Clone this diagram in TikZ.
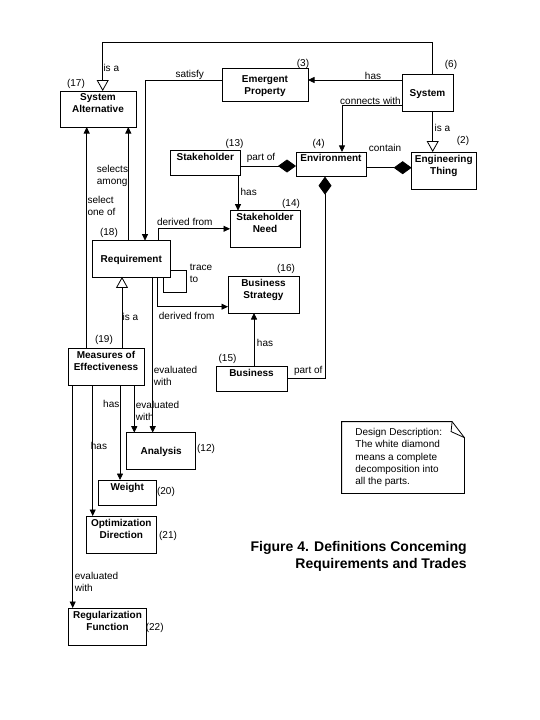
\documentclass[tikz,border=0pt]{standalone}
\usepackage{fontspec}
\setmainfont{Liberation Sans}
\usepackage{tikz}
\usetikzlibrary{arrows.meta}

\begin{document}
\begin{tikzpicture}[x=1pt,y=-1pt,line width=0.8pt,
  cls/.style={draw,inner sep=1pt,outer sep=0pt,align=center,
    font=\bfseries\fontsize{10}{12}\selectfont},
  toprow/.style={text height=7.5pt,text depth=12.5pt},
  toptwo/.style={text height=19.5pt,text depth=12pt},
  midrow/.style={text height=7.5pt,text depth=0pt},
  midtwo/.style={text height=22pt,text depth=2pt},
  lbl/.style={inner sep=0.5pt,align=left,font=\fontsize{10}{12}\selectfont},
  num/.style={inner sep=0pt,font=\fontsize{10}{12}\selectfont},
  arr/.style={-{Triangle[length=6.5pt,width=6pt]}},
  isa/.style={-{Triangle[open,length=11pt,width=12pt]}},
  whole/.style={-{Diamond[length=18pt,width=13pt]}}]
  % page is 540 x 720, y runs down
  \useasboundingbox (0,0) rectangle (540,720);

  % classes
  \node[cls,toptwo,minimum width=76pt,minimum height=36pt] (sysalt) at (98,109) {System\\Alternative};
  \node[cls,midtwo,minimum width=86pt,minimum height=33pt] (emerg) at (265,84.5) {Emergent\\Property};
  \node[cls,midrow,minimum width=51pt,minimum height=37pt] (system) at (427.5,92.5) {System};
  \node[cls,toptwo,minimum width=64.3pt,minimum height=37pt] (engthing) at (443.8,170.5) {Engineering\\Thing};
  \node[cls,toprow,minimum width=70pt,minimum height=24.7pt] (env) at (331,164.3) {Environment};
  \node[cls,toprow,minimum width=70.7pt,minimum height=25pt] (stake) at (205.3,163.2) {Stakeholder};
  \node[cls,toptwo,minimum width=70pt,minimum height=36.3pt] (stakeneed) at (265,228.8) {Stakeholder\\Need};
  \node[cls,midrow,minimum width=78.7pt,minimum height=36.3pt] (req) at (131.3,258.8) {Requirement};
  \node[cls,toptwo,minimum width=71pt,minimum height=37pt] (bizstrat) at (263.5,294.5) {Business\\Strategy};
  \node[cls,toprow,minimum width=71pt,minimum height=25pt] (business) at (251.5,378.5) {Business};
  \node[cls,toptwo,minimum width=76pt,minimum height=37pt] (moe) at (106,366.5) {Measures of\\Effectiveness};
  \node[cls,midrow,minimum width=69pt,minimum height=36.3pt] (analysis) at (161.2,450.8) {Analysis};
  \node[cls,toprow,minimum width=58.7pt,minimum height=25pt] (weight) at (127.3,492.5) {Weight};
  \node[cls,toptwo,minimum width=70.7pt,minimum height=37pt] (optdir) at (121.3,534.5) {Optimization\\Direction};
  \node[cls,toptwo,minimum width=78.4pt,minimum height=37pt] (regfn) at (107.5,626.5) {Regularization\\Function};

  % numbers
  \node[num] (n17) at (76,84) {(17)};
  \node[num] (n3) at (303,64) {(3)};
  \node[num] (n6) at (451,65) {(6)};
  \node[num] (n2) at (463,141) {(2)};
  \node[num] (n4) at (318.7,144.3) {(4)};
  \node[num] (n13) at (234.5,144) {(13)};
  \node[num] (n14) at (291,204) {(14)};
  \node[num] (n18) at (109,233) {(18)};
  \node[num] (n16) at (286,269) {(16)};
  \node[num] (n15) at (227.5,359) {(15)};
  \node[num] (n19) at (104,340) {(19)};
  \node[num] (n12) at (206,449.3) {(12)};
  \node[num] (n20) at (166,491.7) {(20)};
  \node[num] (n21) at (168,535.7) {(21)};
  \node[num] (n22) at (154.7,627.7) {(22)};

  % links
  \draw[isa] (system.north -| 432.7,0) |- (102.7,42.7) -- (sysalt.north -| 102.7,0);
  \draw[arr] (system.west |- 0,80) -- (emerg.east |- 0,80);
  \draw[arr] (emerg.west |- 0,80) -| (req.north -| 145,0);
  \draw[arr] (system.west |- 0,105) -| (env.north -| 342,0);
  \draw[isa] (system.south -| 432.7,0) -- (engthing.north -| 432.7,0);
  \draw[whole] (env.east |- 0,167.7) -- (engthing.west |- 0,167.7);
  \draw[whole] (stake.east |- 0,166) -- (env.west |- 0,166);
  \draw[arr] (stake.south -| 238,0) -- (stakeneed.north -| 238,0);
  \draw[whole] (business.east |- 0,378) -| (env.south -| 325,0);
  \draw[arr] (req.north -| 158,0) |- (stakeneed.west);
  \draw (req.east |- 0,270.7) -| (186,292.3) -| (req.south -| 163.3,0);
  \draw[arr] (req.south -| 157.3,0) |- (bizstrat.west |- 0,306.7);
  \draw[arr] (business.north -| 254,0) -- (bizstrat.south -| 254,0);
  \draw[isa] (moe.north -| 122,0) -- (req.south -| 122,0);
  \draw[arr] (moe.north -| 86.7,0) -- (sysalt.south -| 86.7,0);
  \draw[arr] (req.north -| 128.3,0) -- (sysalt.south -| 128.3,0);
  \draw[arr] (req.south -| 152.7,0) -- (analysis.north -| 152.7,0);
  \draw[arr] (moe.south -| 134.3,0) -- (analysis.north -| 134.3,0);
  \draw[arr] (moe.south -| 120,0) -- (weight.north -| 120,0);
  \draw[arr] (moe.south -| 92.7,0) -- (optdir.north -| 92.7,0);
  \draw[arr] (moe.south -| 72.7,0) -- (regfn.north -| 72.7,0);

  % link labels
  \node[lbl] (lisa1) at (111.3,68.3) {is a};
  \node[lbl] (lsatisfy) at (189.7,75) {satisfy};
  \node[lbl] (lhas1) at (373,75.7) {has};
  \node[lbl] (lconn) at (370.5,101) {connects with};
  \node[lbl] (lisa2) at (442.5,128.3) {is a};
  \node[lbl] (lcontain) at (385,148.3) {contain};
  \node[lbl] (lpart1) at (261,157.7) {part of};
  \node[lbl] (lhas2) at (248.7,191.7) {has};
  \node[lbl,anchor=west] (lamong) at (96,176) {selects\\among};
  \node[lbl,anchor=west] (loneof) at (86.7,206) {select\\one of};
  \node[lbl] (lderiv1) at (184.8,221.7) {derived from};
  \node[lbl,anchor=west] (ltrace) at (189,273) {trace\\to};
  \node[lbl] (lderiv2) at (186.7,315.7) {derived from};
  \node[lbl] (lisa3) at (130.5,317.3) {is a};
  \node[lbl] (lhas3) at (265,342.7) {has};
  \node[lbl] (lpart2) at (308.3,371) {part of};
  \node[lbl,anchor=west] (leval1) at (153,376) {evaluated\\with};
  \node[lbl] (lhas4) at (111.3,404) {has};
  \node[lbl,anchor=west] (leval2) at (135,411) {evaluated\\with};
  \node[lbl] (lhas5) at (99,446) {has};
  \node[lbl,anchor=west] (leval3) at (74,581.5) {evaluated\\with};

  % note with folded corner
  \node[minimum width=122pt,minimum height=71pt,inner sep=0pt] (note) at (403,457.5) {};
  \draw (note.north west) -- ([xshift=-12.3pt]note.north east)
    -- ([yshift=-16pt]note.north east) -- (note.south east) -- (note.south west) -- cycle;
  \draw ([xshift=-12.3pt]note.north east) -- ([xshift=-13.3pt,yshift=-10pt]note.north east)
    -- ([yshift=-16pt]note.north east);
  \node[lbl,anchor=north west,inner sep=0pt,font=\fontsize{10}{12.3}\selectfont] (notetext) at (355,428)
    {Design Description:\\The white diamond\\means a complete\\decomposition into\\all the parts.};

  % caption
  \node[font=\bfseries\fontsize{14}{17}\selectfont,align=right,anchor=east,inner sep=0pt] (caption)
    at (467,556.5) {Figure 4. Definitions Conceming\\Requirements and Trades};
\end{tikzpicture}
\end{document}
